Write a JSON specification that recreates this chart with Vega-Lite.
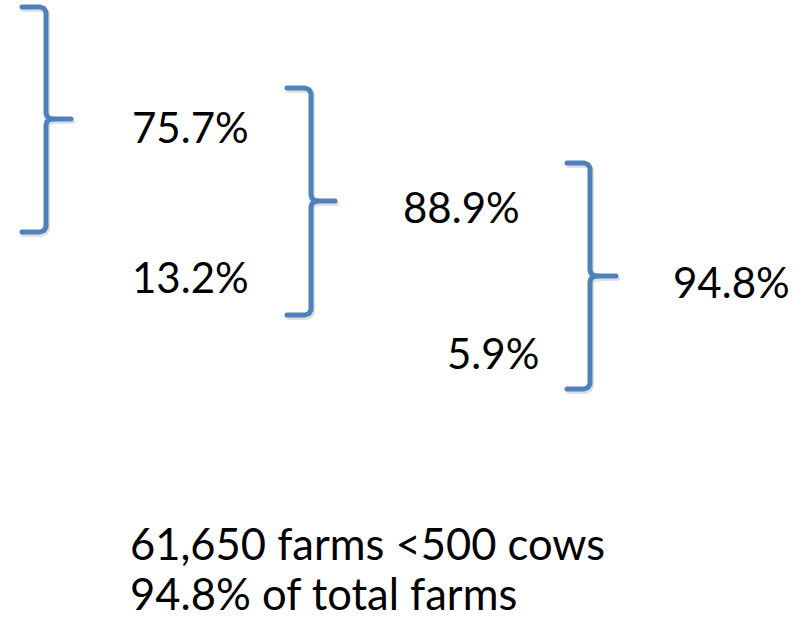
{
  "$schema": "https://vega.github.io/schema/vega-lite/v6.json",
  "width": 808,
  "height": 620,
  "padding": 0,
  "autosize": {"type": "fit", "contains": "padding"},
  "background": "white",
  "config": {"view": {"stroke": null}},
  "datasets": {
    "braces": [
      {"b": 1, "o": 1, "x": 22, "y": 7}, {"b": 1, "o": 2, "x": 40, "y": 7}, {"b": 1, "o": 3, "x": 44, "y": 8.5}, {"b": 1, "o": 4, "x": 46, "y": 12},
      {"b": 1, "o": 5, "x": 46, "y": 113}, {"b": 1, "o": 6, "x": 47, "y": 116.5}, {"b": 1, "o": 7, "x": 50, "y": 118.5}, {"b": 1, "o": 8, "x": 55, "y": 119},
      {"b": 1, "o": 9, "x": 71, "y": 119}, {"b": 1, "o": 10, "x": 55, "y": 119}, {"b": 1, "o": 11, "x": 50, "y": 119.5}, {"b": 1, "o": 12, "x": 47, "y": 121.5},
      {"b": 1, "o": 13, "x": 46, "y": 125}, {"b": 1, "o": 14, "x": 46, "y": 227}, {"b": 1, "o": 15, "x": 44, "y": 230.5}, {"b": 1, "o": 16, "x": 40, "y": 232},
      {"b": 1, "o": 17, "x": 22, "y": 232},
      {"b": 2, "o": 1, "x": 287, "y": 88}, {"b": 2, "o": 2, "x": 305, "y": 88}, {"b": 2, "o": 3, "x": 309, "y": 89.5}, {"b": 2, "o": 4, "x": 311, "y": 93},
      {"b": 2, "o": 5, "x": 311, "y": 195}, {"b": 2, "o": 6, "x": 312, "y": 198.5}, {"b": 2, "o": 7, "x": 315, "y": 200.5}, {"b": 2, "o": 8, "x": 320, "y": 201},
      {"b": 2, "o": 9, "x": 335, "y": 201}, {"b": 2, "o": 10, "x": 320, "y": 201}, {"b": 2, "o": 11, "x": 315, "y": 201.5}, {"b": 2, "o": 12, "x": 312, "y": 203.5},
      {"b": 2, "o": 13, "x": 311, "y": 207}, {"b": 2, "o": 14, "x": 311, "y": 310}, {"b": 2, "o": 15, "x": 309, "y": 313.5}, {"b": 2, "o": 16, "x": 305, "y": 315},
      {"b": 2, "o": 17, "x": 287, "y": 315},
      {"b": 3, "o": 1, "x": 567, "y": 163}, {"b": 3, "o": 2, "x": 584, "y": 163}, {"b": 3, "o": 3, "x": 588, "y": 164.5}, {"b": 3, "o": 4, "x": 590, "y": 168},
      {"b": 3, "o": 5, "x": 590, "y": 270}, {"b": 3, "o": 6, "x": 591, "y": 273.5}, {"b": 3, "o": 7, "x": 594, "y": 275.5}, {"b": 3, "o": 8, "x": 599, "y": 276},
      {"b": 3, "o": 9, "x": 616, "y": 276}, {"b": 3, "o": 10, "x": 599, "y": 276}, {"b": 3, "o": 11, "x": 594, "y": 276.5}, {"b": 3, "o": 12, "x": 591, "y": 278.5},
      {"b": 3, "o": 13, "x": 590, "y": 282}, {"b": 3, "o": 14, "x": 590, "y": 384}, {"b": 3, "o": 15, "x": 588, "y": 387.5}, {"b": 3, "o": 16, "x": 584, "y": 389},
      {"b": 3, "o": 17, "x": 567, "y": 389}
    ],
    "labels": [
      {"g": "pct", "t": "75.7%", "x": 132, "y": 143},
      {"g": "pct", "t": "13.2%", "x": 132, "y": 293},
      {"g": "pct", "t": "88.9%", "x": 403, "y": 223},
      {"g": "pct", "t": "5.9%", "x": 447, "y": 369},
      {"g": "pct", "t": "94.8%", "x": 673, "y": 298},
      {"g": "note", "t": "61,650 farms <500 cows", "x": 130, "y": 560},
      {"g": "note", "t": "94.8% of total farms", "x": 130, "y": 610}
    ]
  },
  "layer": [
    {
      "data": {"name": "braces"},
      "mark": {"type": "line", "color": "#000000", "opacity": 0.12, "strokeWidth": 5, "strokeCap": "round", "strokeJoin": "round", "xOffset": 1.5, "yOffset": 2.5},
      "encoding": {
        "x": {"field": "x", "type": "quantitative", "scale": {"domain": [0, 808], "nice": false, "zero": false}, "axis": null},
        "y": {"field": "y", "type": "quantitative", "scale": {"domain": [0, 620], "nice": false, "zero": false, "reverse": true}, "axis": null},
        "detail": {"field": "b", "type": "nominal"},
        "order": {"field": "o", "type": "quantitative"}
      }
    },
    {
      "data": {"name": "braces"},
      "mark": {"type": "line", "color": "#4F81BD", "strokeWidth": 5, "strokeCap": "round", "strokeJoin": "round"},
      "encoding": {
        "x": {"field": "x", "type": "quantitative", "scale": {"domain": [0, 808], "nice": false, "zero": false}, "axis": null},
        "y": {"field": "y", "type": "quantitative", "scale": {"domain": [0, 620], "nice": false, "zero": false, "reverse": true}, "axis": null},
        "detail": {"field": "b", "type": "nominal"},
        "order": {"field": "o", "type": "quantitative"}
      }
    },
    {
      "data": {"name": "labels"},
      "transform": [{"filter": "datum.g === 'pct'"}],
      "mark": {"type": "text", "font": "Lato", "fontSize": 42, "color": "#000000", "align": "left", "baseline": "alphabetic"},
      "encoding": {
        "x": {"field": "x", "type": "quantitative", "scale": {"domain": [0, 808], "nice": false, "zero": false}, "axis": null},
        "y": {"field": "y", "type": "quantitative", "scale": {"domain": [0, 620], "nice": false, "zero": false, "reverse": true}, "axis": null},
        "text": {"field": "t", "type": "nominal"}
      }
    },
    {
      "data": {"name": "labels"},
      "transform": [{"filter": "datum.g === 'note'"}],
      "mark": {"type": "text", "font": "Lato", "fontSize": 43.5, "color": "#000000", "align": "left", "baseline": "alphabetic"},
      "encoding": {
        "x": {"field": "x", "type": "quantitative", "scale": {"domain": [0, 808], "nice": false, "zero": false}, "axis": null},
        "y": {"field": "y", "type": "quantitative", "scale": {"domain": [0, 620], "nice": false, "zero": false, "reverse": true}, "axis": null},
        "text": {"field": "t", "type": "nominal"}
      }
    }
  ]
}
